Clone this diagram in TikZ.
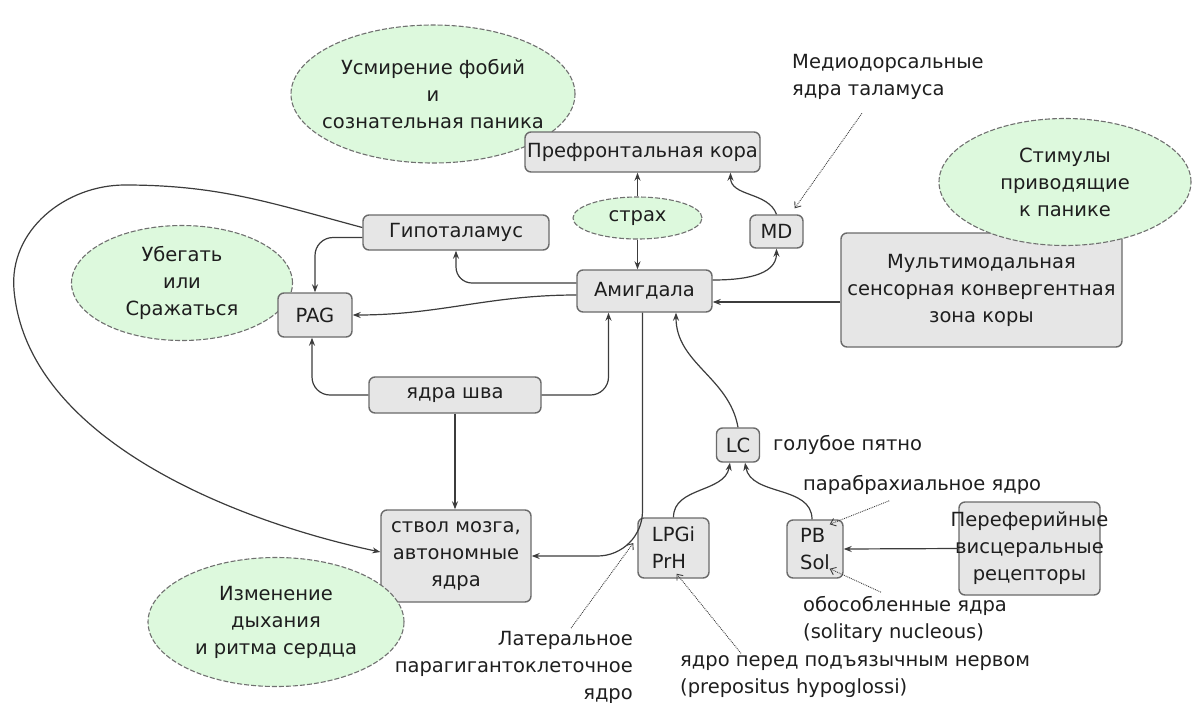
\documentclass[tikz,border=0pt]{standalone}
\usepackage{fontspec}
\setmainfont{DejaVu Sans}
\usepackage{tikz}
\usetikzlibrary{shapes.geometric,arrows.meta}

\definecolor{boxfill}{HTML}{E6E6E6}
\definecolor{boxline}{HTML}{6A6A6A}
\definecolor{blobfill}{HTML}{DDF9DD}
\definecolor{blobline}{HTML}{707070}
\definecolor{wirecol}{HTML}{3C3C3C}
\definecolor{ink}{HTML}{1E1E1E}

\begin{document}
\begin{tikzpicture}[x=1pt,y=1pt,
	font=\fontsize{19.5}{27}\selectfont, text=ink,
	box/.style={draw=boxline, fill=boxfill, line width=1.4pt, rounded corners=6pt,
		inner sep=-30pt, align=center},
	blob/.style={ellipse, draw=blobline, fill=blobfill, line width=1.1pt,
		dash pattern=on 5pt off 2pt, inner sep=-50pt, align=center},
	note/.style={inner sep=0pt, align=left},
	wire/.style={draw=wirecol, line width=1.2pt, -{Stealth[length=8pt,width=6pt]}},
	hint/.style={draw=wirecol, line width=0.9pt, densely dotted,
		-{Straight Barb[length=5pt,width=8pt]}}]
	\useasboundingbox (0,0) rectangle (1192,-702);

	% ellipses behind the boxes
	\node[blob, minimum width=284pt, minimum height=138pt] (calm) at (433,-94) {Усмирение фобий\\и\\сознательная паника};
	\node[blob, minimum width=221pt, minimum height=115pt] (flee) at (182,-283) {Убегать\\или\\Сражаться};

	\node[box, minimum width=235pt, minimum height=40pt] (pref) at (642.5,-152) {Префронтальная кора};
	\node[blob, minimum width=129pt, minimum height=42pt] (fear) at (637.5,-218) {страх};
	\node[box, minimum width=53pt, minimum height=33pt] (md) at (776.5,-231.5) {MD};
	\node[box, minimum width=186pt, minimum height=35pt] (hypo) at (456,-232.5) {Гипоталамус};
	\node[box, minimum width=135pt, minimum height=42pt] (amyg) at (644.5,-291) {Амигдала};
	\node[box, minimum width=281pt, minimum height=114pt] (multi) at (981.5,-290) {Мультимодальная\\сенсорная конвергентная\\зона коры};
	\node[box, minimum width=74pt, minimum height=44pt] (pag) at (315,-315) {PAG};
	\node[box, minimum width=172pt, minimum height=36pt] (raphe) at (455,-395) {ядра шва};
	\node[box, minimum width=150pt, minimum height=92pt] (stem) at (456,-556) {ствол мозга,\\автономные\\ядра};
	\node[box, minimum width=43pt, minimum height=34pt] (lc) at (738,-445) {LC};
	\node[box, minimum width=71pt, minimum height=60pt, align=left] (lpgi) at (673.5,-548) {LPGi\\PrH};
	\node[box, minimum width=56pt, minimum height=58pt, align=left] (pbsol) at (815,-549) {PB\\Sol};
	\node[box, minimum width=141pt, minimum height=93pt] (periph) at (1029.5,-548.5) {Переферийные\\висцеральные\\рецепторы};

	% ellipses over the boxes
	\node[blob, minimum width=252pt, minimum height=127pt] (stim) at (1065,-182) {Стимулы\\приводящие\\к панике};
	\node[blob, minimum width=256pt, minimum height=129pt] (breath) at (276,-622) {Изменение\\дыхания\\и ритма сердца};

	\node[note, anchor=west] (mdlbl) at (792,-76.5) {Медиодорсальные\\ядра таламуса};
	\node[note, anchor=west] (lclbl) at (773,-445) {голубое пятно};
	\node[note, anchor=west] (pblbl) at (803,-485) {парабрахиальное ядро};
	\node[note, anchor=west] (sollbl) at (803,-619.5) {обособленные ядра\\(solitary nucleous)};
	\node[note, anchor=west] (prhlbl) at (680,-676.5) {ядро перед подъязычным нервом\\(prepositus hypoglossi)};
	\node[note, anchor=east, align=right] (lpgilbl) at (633,-667.5) {Латеральное\\парагигантоклеточное\\ядро};

	\coordinate (looptop) at (125,-185);
	\coordinate (loopleft) at (14,-290);

	\draw[wire] (fear.north) -- (pref.south -| fear.north);
	\draw[wire] (fear.south) -- (amyg.north -| fear.south);
	\draw[wire] ([yshift=11pt]amyg.east) to[out=0,in=-90] (md.south);
	\draw[wire] (md.north) to[out=110,in=-90] ([xshift=88pt]pref.south);
	\draw[wire, rounded corners=16pt] ([yshift=8pt]amyg.west) -| (hypo.south);
	\draw[wire] ([yshift=-4pt]amyg.west) to[out=180,in=0] (pag.east);
	\draw[wire, rounded corners=18pt] ([yshift=-5pt]hypo.west) -| (pag.north);
	\draw[wire, rounded corners=18pt] (raphe.west) -| ([xshift=-3pt]pag.south);
	\draw[wire, rounded corners=18pt] (raphe.east) -| ([xshift=-36pt]amyg.south);
	\draw[wire] (raphe.south) -- (stem.north -| raphe.south);
	\draw[wire, rounded corners=45pt] ([xshift=-2pt]amyg.south) |- (stem.east);
	\draw[wire] (lc.north) to[out=100,in=-90] ([xshift=31.5pt]amyg.south);
	\draw[wire] (lpgi.north) to[out=90,in=-100] ([xshift=-8pt]lc.south);
	\draw[wire] ([xshift=-3pt]pbsol.north) to[out=90,in=-80] ([xshift=7pt]lc.south);
	\draw[wire] (periph.west) -- (pbsol.east);
	\draw[wire] ([yshift=-12pt]multi.west) -- ([yshift=-11pt]amyg.east);
	\draw[wire] ([yshift=5pt]hypo.west) to[out=165,in=0] (looptop)
		to[out=180,in=95] (loopleft) to[out=-85,in=168,looseness=0.85] ([yshift=4pt]stem.west);

	\draw[hint] ([xshift=-26pt,yshift=-14pt]mdlbl.south) -- ([xshift=-9pt,yshift=6pt]md.north east);
	\draw[hint] ([xshift=-33pt,yshift=-6pt]pblbl.south) -- ([xshift=-14pt,yshift=-5pt]pbsol.north east);
	\draw[hint] ([xshift=78pt,yshift=4pt]sollbl.north west) -- ([xshift=-14pt,yshift=10pt]pbsol.south east);
	\draw[hint] ([xshift=61pt,yshift=2pt]prhlbl.north west) -- ([xshift=3pt,yshift=5pt]lpgi.south);
	\draw[hint] ([xshift=-62pt,yshift=3pt]lpgilbl.north east) -- ([xshift=-4pt,yshift=5pt]lpgi.west);
\end{tikzpicture}
\end{document}
